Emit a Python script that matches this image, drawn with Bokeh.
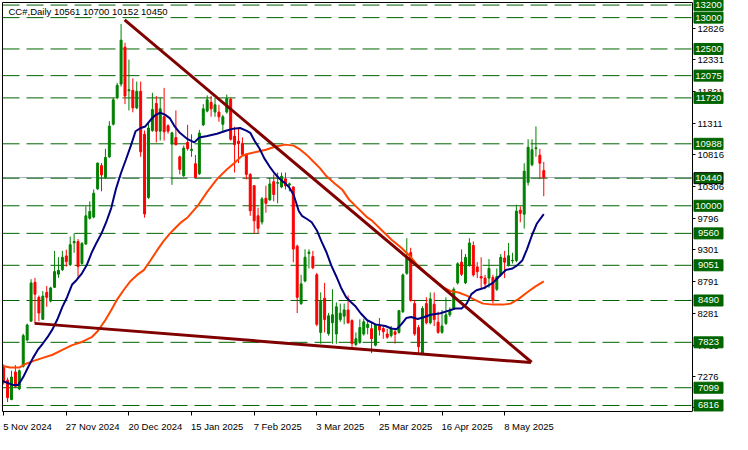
from bokeh.plotting import figure
from bokeh.models import Range1d, FixedTicker, Label, PrintfTickFormatter, LinearAxis
from bokeh.core.properties import value
from bokeh.embed import file_html
from bokeh.resources import INLINE

# ---- candle data (daily bars, index 0 = 5 Nov 2024) ----
opens = [7420, 7220, 6910, 7350, 7080, 7440, 7860, 8160, 8780, 8540,
         8190, 8620, 8480, 8700, 8910, 8980, 9200, 9060, 9410, 9430,
         9080, 9390, 9800, 9820, 10270, 10640, 10450, 10780, 11300, 11720,
         11940, 12530, 11835, 11840, 11560, 11825, 11140, 10130, 11200, 11630,
         11190, 11420, 11275, 10985, 11087, 10780, 10480, 11010, 10880, 10670,
         10510, 11290, 11510, 11650, 11495, 11494, 11300, 11494, 11700, 11110,
         11030, 10995, 10810, 10500, 10320, 9840, 9740, 10120, 10094, 10384,
         10360, 10300, 10430, 10330, 10300, 9356, 8440, 8800, 9240, 9190,
         8900, 7980, 8526, 7960, 8134, 7956, 8185, 8240, 8338, 8170,
         7788, 7820, 7955, 8060, 8040, 7778, 8083, 8042, 7956, 7930,
         7990, 7982, 8312, 8923, 9254, 8440, 8058, 7651, 8440, 8134,
         8430, 8144, 7982, 8124, 8261, 8363, 8770, 9101, 8771, 9050,
         9366, 9025, 8872, 8847, 8847, 8857, 8669, 8898, 9168, 9050,
         9120, 9127, 9931, 9865, 10374, 10654, 10910, 10807, 10561]
highs = [7470, 7260, 7370, 7460, 7390, 7960, 8120, 8830, 8850, 8570,
         8640, 8720, 8710, 9280, 9180, 9280, 9300, 9510, 9560, 9470,
         9420, 9990, 10070, 10260, 10690, 10680, 10910, 11350, 11720, 11960,
         12900, 12600, 12330, 12030, 11980, 11980, 11200, 11340, 11800, 11750,
         11720, 11880, 11300, 11180, 11520, 10800, 10960, 11290, 11140, 10810,
         11210, 11620, 11760, 11750, 11720, 11610, 11450, 11774, 11720, 11260,
         11240, 11090, 10830, 10520, 10330, 9970, 10140, 10320, 10450, 10500,
         10530, 10530, 10530, 10370, 10310, 9380, 8900, 9305, 9305, 9280,
         8930, 8620, 8770, 8290, 8670, 8460, 8440, 8440, 8570, 8190,
         7980, 8190, 8200, 8180, 8150, 8110, 8210, 8080, 8040, 8083,
         8030, 8340, 8920, 9483, 9330, 8500, 8100, 8400, 8541, 8618,
         8618, 8312, 8338, 8541, 8380, 8700, 9100, 9305, 9230, 9483,
         9432, 9101, 9178, 8900, 9150, 8900, 9000, 9230, 9280, 9407,
         9250, 10018, 9992, 10679, 11061, 11061, 11265, 10908, 10700]
lows = [7150, 6870, 6900, 7100, 7060, 7420, 7840, 8150, 8130, 8160,
        8180, 8390, 8460, 8690, 8850, 8960, 9030, 9040, 9250, 8850,
        9060, 9380, 9780, 9800, 10250, 10230, 10430, 10760, 11280, 11700,
        11900, 11620, 11520, 11490, 11540, 10780, 9810, 10110, 11180, 11010,
        11040, 11040, 11150, 10334, 10960, 10500, 10460, 10880, 10780, 10440,
        10490, 11270, 11490, 11420, 11420, 11340, 11170, 11470, 11040, 10530,
        10680, 10800, 10420, 9840, 9560, 9560, 9700, 9890, 10080, 10070,
        10040, 10280, 10260, 10230, 9100, 8290, 8420, 8780, 9000, 8990,
        8080, 7800, 7980, 7930, 7800, 7800, 8150, 8110, 8120, 7727,
        7760, 7800, 7930, 7950, 7650, 7760, 7930, 7880, 7880, 7900,
        7803, 7960, 8290, 8900, 8470, 7930, 7651, 7640, 8110, 8110,
        8083, 7960, 7960, 8100, 8230, 8340, 8745, 8880, 8750, 9030,
        8870, 8847, 8694, 8670, 8694, 8440, 8640, 8870, 8847, 9030,
        9080, 9100, 9737, 9636, 10323, 10630, 10780, 10425, 10152]
closes = [7210, 6940, 7270, 7120, 7370, 7930, 8100, 8770, 8590, 8290,
          8560, 8540, 8690, 8950, 8970, 9180, 9110, 9380, 9430, 9030,
          9400, 9840, 9910, 10200, 10680, 10490, 10770, 11270, 11690, 11920,
          12640, 11750, 11850, 11560, 11825, 10860, 9870, 11240, 11535, 11190,
          11545, 11180, 11190, 11163, 10975, 10580, 10920, 10910, 10900, 10450,
          11160, 11545, 11690, 11545, 11610, 11418, 11418, 11708, 11060, 10975,
          10990, 10820, 10500, 9920, 9760, 9640, 10110, 10040, 10349, 10180,
          10370, 10470, 10320, 10350, 9310, 8540, 8755, 9180, 9260, 9010,
          8110, 8475, 8185, 8246, 8262, 8389, 8287, 8340, 8134, 7803,
          7880, 8058, 8150, 8110, 7880, 8100, 8020, 7991, 7905, 8042,
          7950, 8327, 8898, 9178, 8490, 7956, 7752, 8363, 8134, 8516,
          8185, 7982, 8083, 8261, 8338, 8669, 9076, 8908, 9178, 9407,
          8898, 8949, 8847, 8755, 9000, 8490, 8872, 9178, 9101, 9203,
          9130, 9916, 9880, 10552, 10934, 10893, 10925, 10679, 10450]

# ---- fast moving average (navy), read at bar positions ----
fast_ma_x = [-0.9, 2.5, 3.7, 5.0, 6.2, 7.5, 8.7, 10, 11.2, 12.5, 13.7, 15, 16.2, 17.5,
             18.7, 20, 21.2, 22.5, 23.7, 25, 26.2, 27.5, 28.7, 30, 31.2, 32.5, 33.7,
             35, 36.2, 37.5, 38.7, 40, 41.2, 42.5, 43.7, 45, 47, 48.7, 50, 52, 54.5,
             57, 58.7, 60.4, 62, 63, 64.1, 65.4, 66.6, 67.9, 69.1, 70.4, 71.6, 72.9,
             74.1, 75.4, 76.2, 77.5, 78.7, 80, 81.2, 82.5, 83.7, 85, 86.2, 87.5, 88.7,
             90, 91.2, 92.9, 95, 97.5, 99.1, 100.4, 101.6, 102.9, 104.1, 105.8, 107.5,
             109.1, 111.6, 113.7, 115.4, 117, 118.3, 119.5, 120.8, 122.9, 125, 126.6,
             128.3, 130, 131.2, 132.5, 133.7, 135, 136.2, 138]
fast_ma_y = [7218, 7141, 7141, 7269, 7422, 7575, 7702, 7804, 7905, 8033, 8186, 8389, 8542, 8745,
             8821, 8924, 9050, 9255, 9408, 9560, 9738, 9967, 10272, 10527, 10730, 10959, 11188,
             11240, 11265, 11367, 11443, 11484, 11454, 11393, 11265, 11164, 11062, 11011, 11088, 11112, 11149,
             11199, 11230, 11240, 11199, 11164, 11036, 10909, 10756, 10629, 10527, 10435, 10374, 10298,
             10171, 9916, 9840, 9789, 9738, 9611, 9432, 9255, 9050, 8873, 8694, 8542, 8465,
             8389, 8287, 8175, 8109, 8083, 8043, 8033, 8109, 8211, 8226, 8195, 8226,
             8262, 8287, 8328, 8363, 8363, 8440, 8592, 8653, 8694, 8771, 8873,
             8975, 9000, 9050, 9127, 9305, 9534, 9713, 9866]

# ---- slow moving average (orange-red) ----
slow_ma_x = [-0.9, 1.6, 4.1, 5.4, 7.5, 10, 12.5, 15, 17.5, 20, 22.5, 24.1, 25.8, 27.5, 29.1,
             30.8, 32.5, 34.1, 35.8, 37.5, 39.1, 40.8, 42.5, 44.1, 45.4, 47, 49.5, 52, 54.5,
             57, 59.1, 60.8, 62, 64.5, 67, 69.5, 72, 74.1, 75.8, 77.5, 79.1, 80.8, 82.5,
             84.5, 86.6, 88.3, 90.4, 92.9, 94.1, 96.6, 99.1, 101.6, 103.7, 105.4, 107.5,
             110, 112.5, 114.1, 116.2, 118.3, 120.4, 122.5, 125, 127.5, 129.5, 131.6,
             133.7, 135.8, 138]
slow_ma_y = [7457, 7422, 7422, 7473, 7523, 7575, 7625, 7702, 7778, 7829, 7905, 8007, 8160, 8338, 8516,
             8669, 8806, 8898, 8974, 9127, 9280, 9432, 9560, 9662, 9740, 9814, 9993, 10222, 10425,
             10578, 10690, 10792, 10822, 10858, 10894, 10944, 10975, 10959, 10894, 10807, 10705, 10600, 10470,
             10360, 10250, 10095, 9967, 9814, 9763, 9611, 9458, 9331, 9203, 9076, 8949,
             8821, 8694, 8643, 8618, 8567, 8501, 8440, 8424, 8424, 8440, 8516,
             8618, 8710, 8796]

# ---- trend lines (bar index, price) ----
upper_trend_x = [30.9, 134.9]
upper_trend_y = [12965, 7505]
lower_trend_x = [7.9, 134.7]
lower_trend_y = [8125, 7500]

# ---- horizontal levels and axis ticks ----
levels = [13200, 13000, 12500, 12075, 11720, 10988, 10440, 10000, 9560, 9051, 8490, 7823, 7099, 6816]
price_ticks = [12826, 12331, 11821, 11311, 10816, 10306, 9796, 9301, 8791, 8281, 7766, 7276, 6781]
date_tick_idx = [0, 16, 32, 48, 64, 80, 96, 112, 128]
date_tick_labels = ["5 Nov 2024", "27 Nov 2024", "20 Dec 2024", "15 Jan 2025", "7 Feb 2025",
                    "3 Mar 2025", "25 Mar 2025", "16 Apr 2025", "8 May 2025"]
symbol = "CC#,Daily"

FONT = "Liberation Sans"
FS = 9.5
FSIZE = f"{FS}px"
GREEN = "#008000"
RED = "#FF0000"
LEVEL = "#006400"

# geometry
W, H = 732, 434
BL, BT = 2, 2
LABEL_COL = 40                      # px reserved right of the price axis
x0, x_axis = -0.3, 176              # visible bar range up to the price axis
y0, y1 = 6720, 13241
frame_w = W - BL
ppu = (frame_w - LABEL_COL) / (x_axis - x0)   # px per bar
x1 = x0 + frame_w / ppu

p = figure(width=W, height=H, x_range=Range1d(x0, x1), y_range=Range1d(y0, y1),
           y_axis_location=None, output_backend="svg", toolbar_location=None,
           min_border_left=BL, min_border_top=BT, min_border_right=0, min_border_bottom=18)
p.background_fill_color = "white"
p.border_fill_color = "white"
p.outline_line_color = None
p.xgrid.visible = False
p.ygrid.visible = False

# bid line + level lines (stop at the price axis)
p.segment(x0=[x0], y0=[closes[-1]], x1=[x_axis], y1=[closes[-1]], line_color="#A8B0C4",
          line_width=1, level="underlay")
p.segment(x0=[x0] * len(levels), y0=levels, x1=[x_axis] * len(levels), y1=levels,
          line_color=LEVEL, line_width=1, line_dash="17 7", level="underlay")

idx = list(range(len(opens)))
colors = [GREEN if c >= o else RED for o, c in zip(opens, closes)]
tops = [max(o, c) for o, c in zip(opens, closes)]
bots = [min(o, c) for o, c in zip(opens, closes)]

p.segment(x0=idx, y0=lows, x1=idx, y1=highs, line_color=colors, line_width=1)
p.vbar(x=idx, top=tops, bottom=bots, width=0.5, fill_color=colors, line_color=colors, line_width=1)

p.line(slow_ma_x, slow_ma_y, line_color="#FF4500", line_width=2)
p.line(fast_ma_x, fast_ma_y, line_color="#000080", line_width=2)
p.line(upper_trend_x, upper_trend_y, line_color="#800000", line_width=3)
p.line(lower_trend_x, lower_trend_y, line_color="#800000", line_width=3)

# ---- x axis: labels start at their tick (MT4 style) ----
CW = {' ': 0.278, 'N': 0.722, 'o': 0.556, 'v': 0.5, 'D': 0.722, 'e': 0.556, 'c': 0.5,
      'J': 0.5, 'a': 0.556, 'n': 0.556, 'F': 0.611, 'b': 0.556, 'M': 0.833, 'r': 0.333,
      'A': 0.667, 'p': 0.556, 'y': 0.5}


def text_w(s):
    return sum(CW.get(ch, 0.556) for ch in s) * FS


centers = [round(i + (text_w(t) / 2 - 0.5) / ppu, 3) for i, t in zip(date_tick_idx, date_tick_labels)]
xa = p.xaxis[0]
xa.ticker = FixedTicker(ticks=centers, minor_ticks=date_tick_idx)
xa.major_label_overrides = {c: t for c, t in zip(centers, date_tick_labels)}
xa.bounds = (x0, x_axis)
xa.major_tick_out = 0
xa.major_tick_in = 0
xa.minor_tick_out = 4
xa.minor_tick_in = 0
xa.major_label_standoff = 5
xa.major_label_text_font = FONT
xa.major_label_text_font_size = FSIZE
xa.major_label_text_color = "black"
xa.axis_line_color = "black"
xa.minor_tick_line_color = "black"

# top and left frame borders
top = LinearAxis(ticker=FixedTicker(ticks=[]), bounds=(x0, x_axis), major_tick_out=0,
                 major_tick_in=0, minor_tick_out=0, minor_tick_in=0, axis_line_color="black")
p.add_layout(top, "above")
left = LinearAxis(ticker=FixedTicker(ticks=[]), major_tick_out=0, major_tick_in=0,
                  minor_tick_out=0, minor_tick_in=0, axis_line_color="black")
p.add_layout(left, "left")

# ---- price axis at the right edge of the bars ----
ya = LinearAxis(fixed_location=x_axis, ticker=FixedTicker(ticks=price_ticks, minor_ticks=[]),
                formatter=PrintfTickFormatter(format="%d"))
ya.major_tick_out = 3
ya.major_tick_in = 0
ya.major_label_standoff = 2
ya.major_label_text_font = FONT
ya.major_label_text_font_size = FSIZE
ya.major_label_text_color = "black"
ya.axis_line_color = "black"
ya.major_tick_line_color = "black"
p.add_layout(ya, "right")

# level price boxes (drawn over the price axis labels, as in MT4)
box_cx = x_axis + 16 / ppu
p.rect(x=[box_cx] * len(levels), y=levels, width=29, height=11, width_units="screen",
       height_units="screen", fill_color=LEVEL,
       line_color=["black" if lv == 10440 else LEVEL for lv in levels], line_width=1,
       level="overlay")
p.text(x=[box_cx] * len(levels), y=levels, text=[str(lv) for lv in levels], text_align="center",
       text_baseline="middle", text_color="white", text_font=value(FONT),
       text_font_size=value(FSIZE), level="overlay")

title = f"{symbol}  {opens[-1]} {highs[-1]} {lows[-1]} {closes[-1]}"
p.add_layout(Label(x=x0, y=y1, x_offset=6, y_offset=-3, text=title, text_align="left",
                   text_baseline="top", text_color="black", text_font=FONT,
                   text_font_size=FSIZE))

open("out.html", "w").write(file_html(p, INLINE))
